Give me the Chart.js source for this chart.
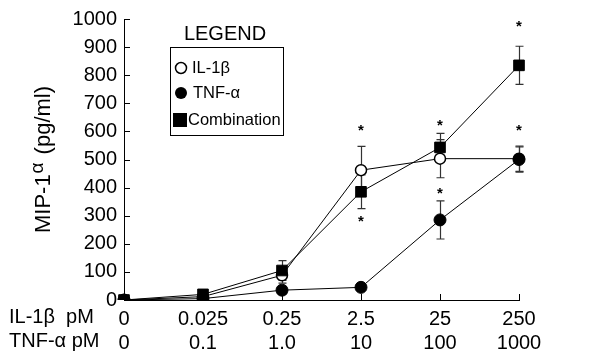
<!DOCTYPE html>
<html><head><meta charset="utf-8">
<script src="https://cdn.jsdelivr.net/npm/chart.js@4"></script>
<style>html,body{margin:0;padding:0;background:#fff}#wrap{width:610px;height:353px;position:relative}canvas{display:block}</style>
</head><body><div id="wrap"><canvas id="c" width="610" height="353" style="width:610px;height:353px"></canvas></div>
<script>
// ---- data ----
const il1bDoses = ['0', '0.025', '0.25', '2.5', '25', '250'];
const tnfDoses  = ['0', '0.1', '1.0', '10', '100', '1000'];
const rowLabels = ['IL-1\u03B2  pM', 'TNF-\u03B1 pM'];
const yTickValues = [0, 100, 200, 300, 400, 500, 600, 700, 800, 900, 1000];

const il1bValues  = [0, 12, 88, 462, 503, 503];
const il1bErrors  = [0, 0, 28, 85, 68, 45];
const tnfValues   = [0, 5, 35, 45, 285, 500];
const tnfErrors   = [0, 0, 14, 0, 68, 45];
const comboValues = [0, 20, 105, 385, 543, 835];
const comboErrors = [0, 0, 35, 60, 50, 68];
// significance asterisks (level in pg/ml where the * sits)
const il1bStars  = [null, null, null, 613, null, null];
const tnfStars   = [null, null, null, null, 387, 611];
const comboStars = [null, null, null, 290, 632, 981];

const seriesNames = ['IL-1\u03B2', 'TNF-\u03B1', 'Combination'];
const legendTitle = 'LEGEND';
const yTitleParts = ['MIP-1', '\u03B1', '(pg/ml)'];

const FONT = '"Liberation Sans", Arial, Helvetica, sans-serif';

const errorsBySeries = [il1bErrors, tnfErrors, comboErrors];
const starsBySeries = [il1bStars, tnfStars, comboStars];

const decorPlugin = {
  id: 'decor',
  beforeDatasetsDraw(chart) {
    const ctx = chart.ctx, y = chart.scales.y, x = chart.scales.x;
    ctx.save();
    ctx.strokeStyle = '#333';
    ctx.lineWidth = 1.2;
    chart.data.datasets.forEach((ds, di) => {
      const errs = errorsBySeries[di];
      ds.data.forEach((v, i) => {
        const e = errs[i];
        if (!e) return;
        const px = Math.round(x.getPixelForValue(i)) + 0.5;
        const top = y.getPixelForValue(v + e), bot = y.getPixelForValue(v - e);
        ctx.beginPath();
        ctx.moveTo(px, top); ctx.lineTo(px, bot);
        ctx.moveTo(px - 4, top); ctx.lineTo(px + 4, top);
        ctx.moveTo(px - 4, bot); ctx.lineTo(px + 4, bot);
        ctx.stroke();
      });
    });
    ctx.restore();
  },
  afterDraw(chart) {
    const ctx = chart.ctx, y = chart.scales.y, x = chart.scales.x, a = chart.chartArea;
    ctx.save();
    // inward ticks
    ctx.strokeStyle = '#000'; ctx.lineWidth = 1;
    yTickValues.forEach(v => {
      const py = Math.round(y.getPixelForValue(v)) + 0.5;
      ctx.beginPath(); ctx.moveTo(a.left, py); ctx.lineTo(a.left + 6, py); ctx.stroke();
    });
    il1bDoses.forEach((d, i) => {
      const px = Math.round(x.getPixelForValue(i)) + 0.5;
      ctx.beginPath(); ctx.moveTo(px, a.bottom); ctx.lineTo(px, a.bottom - 6); ctx.stroke();
    });
    // asterisks
    ctx.fillStyle = '#000';
    ctx.font = 'bold 15px ' + FONT;
    ctx.textAlign = 'center'; ctx.textBaseline = 'middle';
    starsBySeries.forEach(arr => arr.forEach((s, i) => {
      if (s == null) return;
      ctx.fillText('*', x.getPixelForValue(i), y.getPixelForValue(s) + 3);
    }));
    // row labels
    ctx.font = '20px ' + FONT;
    ctx.textAlign = 'left'; ctx.textBaseline = 'middle';
    ctx.fillText(rowLabels[0], 9, 317);
    ctx.fillText(rowLabels[1], 9, 341);
    // y title (rotated)
    ctx.save();
    ctx.translate(44, 160);
    ctx.rotate(-Math.PI / 2);
    ctx.textBaseline = 'middle';
    const big = '22px ' + FONT, small = '19px ' + FONT, gap = 8;
    ctx.font = big;
    const w0 = ctx.measureText(yTitleParts[0]).width;
    const w2 = ctx.measureText(yTitleParts[2]).width;
    ctx.font = small;
    const w1 = ctx.measureText(yTitleParts[1]).width;
    let sx = -(w0 + w1 + gap + w2) / 2;
    ctx.textAlign = 'left';
    ctx.font = big;
    ctx.fillText(yTitleParts[0], sx, 0); sx += w0 + 1;
    ctx.font = small;
    ctx.fillText(yTitleParts[1], sx, -6); sx += w1 + gap;
    ctx.font = big;
    ctx.fillText(yTitleParts[2], sx, 0);
    ctx.restore();
    // legend
    ctx.fillStyle = '#000';
    ctx.font = '20px ' + FONT;
    ctx.textAlign = 'center'; ctx.textBaseline = 'middle';
    ctx.fillText(legendTitle, 225, 34);
    ctx.strokeStyle = '#000'; ctx.lineWidth = 1;
    ctx.strokeRect(170.5, 47.5, 113, 88);
    ctx.font = '16.5px ' + FONT;
    ctx.textAlign = 'left';
    const rows = [68, 93, 120];
    chart.data.datasets.forEach((ds, di) => {
      const ry = rows[di];
      ctx.lineWidth = 1.5;
      if (di === 0) {
        ctx.beginPath(); ctx.arc(181, ry, 5.5, 0, Math.PI * 2);
        ctx.fillStyle = '#fff'; ctx.fill(); ctx.strokeStyle = '#000'; ctx.stroke();
        ctx.fillStyle = '#000'; ctx.fillText(ds.label, 192, ry);
      } else if (di === 1) {
        ctx.beginPath(); ctx.arc(181, ry, 6, 0, Math.PI * 2);
        ctx.fillStyle = '#000'; ctx.fill();
        ctx.fillText(ds.label, 193, ry);
      } else {
        ctx.fillStyle = '#000'; ctx.fillRect(173, ry - 7, 14, 14);
        ctx.fillText(ds.label, 188, ry);
      }
    });
    ctx.restore();
  }
};

new Chart(document.getElementById('c'), {
  type: 'line',
  data: {
    labels: il1bDoses.map((d, i) => [d, tnfDoses[i]]),
    datasets: [
      { label: seriesNames[0], data: il1bValues, order: 2, borderColor: '#000', borderWidth: 1,
        pointStyle: 'circle', pointRadius: 5.5, pointBackgroundColor: '#fff', pointBorderColor: '#000', pointBorderWidth: 1.5, tension: 0 },
      { label: seriesNames[1], data: tnfValues, order: 1, borderColor: '#000', borderWidth: 1,
        pointStyle: 'circle', pointRadius: 6, pointBackgroundColor: '#000', pointBorderColor: '#000', pointBorderWidth: 1, tension: 0 },
      { label: seriesNames[2], data: comboValues, order: 0, borderColor: '#000', borderWidth: 1,
        pointStyle: 'rect', pointRadius: 7.5, pointBackgroundColor: '#000', pointBorderColor: '#000', pointBorderWidth: 1, tension: 0 }
    ]
  },
  options: {
    responsive: false,
    maintainAspectRatio: false,
    animation: false,
    devicePixelRatio: 1,
    layout: { padding: { top: 17, right: 91, bottom: 0, left: 0 } },
    plugins: { legend: { display: false }, tooltip: { enabled: false } },
    scales: {
      x: {
        type: 'category', offset: false,
        grid: { display: true, drawOnChartArea: false, drawTicks: false },
        border: { display: true, color: '#000', width: 1 },
        ticks: { color: '#000', font: { family: FONT, size: 20, lineHeight: 1.2 }, padding: 7, maxRotation: 0, autoSkip: false },
        afterFit(s) { s.height = 53; }
      },
      y: {
        min: 0, max: 1000,
        grid: { display: true, drawOnChartArea: false, drawTicks: false },
        border: { display: true, color: '#000', width: 1 },
        ticks: { color: '#000', stepSize: 100, font: { family: FONT, size: 20 }, padding: 7,
                 callback: v => String(v) },
        afterFit(s) { s.width = 124; }
      }
    }
  },
  plugins: [decorPlugin]
});
</script>
</body></html>
